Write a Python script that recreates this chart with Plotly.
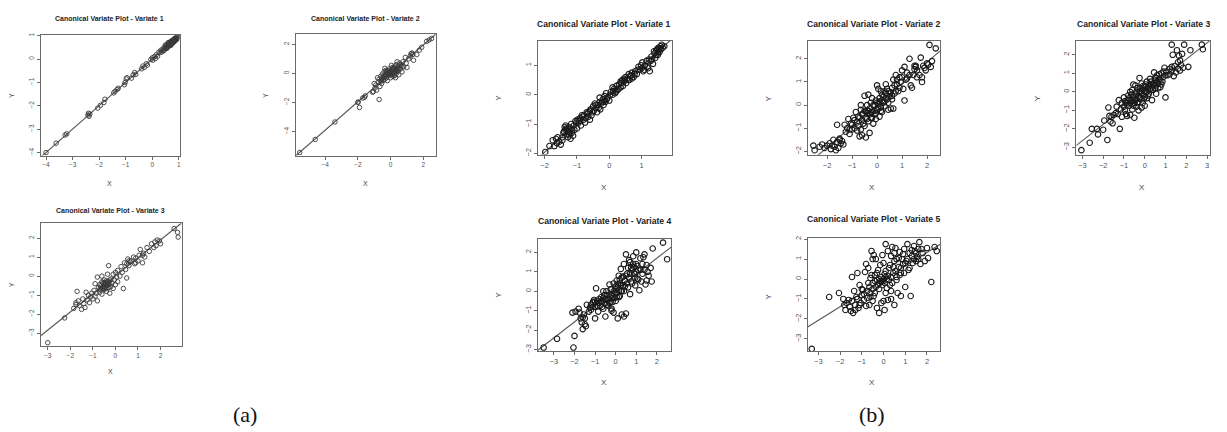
import plotly.graph_objects as go

W, H = 1227, 432

# ---------------- data: canonical variate scores (X, Y) per panel ----------------
A1_PTS = [(-4.0,-4.0),(-3.62,-3.6),(-3.28,-3.25),(-3.22,-3.2),(-2.42,-2.4),(-2.38,-2.45),(-2.35,-2.35),
          (-2.4,-2.32),(-2.05,-2.1),(-1.95,-1.98),(-1.82,-1.86),(-1.78,-1.72),(-1.45,-1.45),(-1.4,-1.38),
          (-1.32,-1.3),(-1.28,-1.25),(-1.05,-1.1),(-1.02,-1.0),(-0.98,-0.85),(-0.95,-0.8),(-0.78,-0.82),
          (-0.72,-0.68),(-0.66,-0.58),(-0.62,-0.66),(-0.4,-0.42),(-0.35,-0.3),(-0.3,-0.36),(-0.22,-0.2),
          (-0.18,-0.26),(-0.05,-0.02),(0.0,0.05),(0.02,-0.05),(0.08,0.1),(0.12,0.02),(0.15,0.18),(0.2,0.12),
          (0.25,0.3),(0.3,0.28),(0.33,0.38),(0.36,0.3),(0.4,0.42),(0.42,0.35),(0.45,0.5),(0.48,0.44),
          (0.5,0.55),(0.52,0.47),(0.55,0.6),(0.56,0.5),(0.58,0.56),(0.6,0.65),(0.6,0.52),(0.62,0.6),
          (0.64,0.7),(0.65,0.58),(0.66,0.64),(0.68,0.72),(0.68,0.6),(0.7,0.68),(0.7,0.76),(0.72,0.64),
          (0.73,0.7),(0.74,0.78),(0.75,0.66),(0.76,0.74),(0.77,0.8),(0.78,0.7),(0.79,0.76),(0.8,0.82),
          (0.8,0.72),(0.81,0.78),(0.82,0.85),(0.83,0.74),(0.84,0.8),(0.85,0.88),(0.86,0.78),(0.87,0.84),
          (0.88,0.9),(0.9,0.82),(0.9,0.87),(0.92,0.92),(0.93,0.85),(0.95,0.95),(0.6,0.7),(0.7,0.58),
          (0.55,0.45),(0.45,0.38),(0.5,0.6)]

A2_PTS = [(-5.55,-5.45),(-4.6,-4.55),(-3.4,-3.35),(-2.0,-2.0),(-1.98,-1.97),(-1.9,-2.35),(-1.7,-1.7),
          (-1.6,-1.65),(-1.55,-1.55),(-1.1,-1.3),(-1.05,-1.25),(-1.0,-0.7),(-0.95,-1.0),(-0.9,-0.8),
          (-0.85,-1.15),(-0.7,-1.8),(-0.75,-0.6),(-0.7,-0.4),(-0.65,-0.9),(-0.6,-0.55),(-0.6,-0.2),
          (-0.55,-0.7),(-0.5,-0.35),(-0.5,-0.05),(-0.45,-0.5),(-0.4,-0.2),(-0.4,0.1),(-0.35,-0.4),
          (-0.3,-0.1),(-0.3,0.2),(-0.25,-0.3),(-0.2,0.0),(-0.2,-0.5),(-0.15,0.15),(-0.1,-0.15),(-0.1,0.3),
          (-0.05,-0.05),(0.0,0.1),(0.0,-0.3),(0.05,0.25),(0.05,-0.1),(0.1,0.0),(0.1,0.4),(0.15,-0.2),
          (0.15,0.15),(0.2,0.3),(0.2,-0.05),(0.25,0.5),(0.25,0.1),(0.3,-0.3),(0.3,0.25),(0.35,0.6),
          (0.35,0.0),(0.4,0.35),(0.45,0.15),(0.5,0.5),(0.5,-0.1),(0.55,0.7),(0.6,0.3),(0.65,0.55),
          (0.7,0.1),(0.75,0.8),(0.8,0.45),(0.9,1.1),(0.95,0.7),(1.0,0.4),(1.1,1.0),(1.2,1.2),(1.25,1.35),
          (1.3,1.4),(1.35,1.3),(1.4,0.9),(1.6,1.3),(1.75,1.6),(1.9,1.8),(2.2,2.2),(2.35,2.3),(2.5,2.4),
          (-0.8,-0.3),(-0.35,0.35),(0.05,0.55),(0.4,0.8),
          (-0.45,-0.25),(-0.35,-0.15),(-0.25,0.05),(-0.15,-0.1),(-0.05,0.1),(0.0,-0.05),(0.1,0.2),
          (0.2,0.1),(0.3,0.4),(0.4,0.2),(0.5,0.3),(0.6,0.6),(-0.2,0.2),(0.15,0.35),(0.25,-0.15),
          (-0.55,-0.45),(0.7,0.45),(0.35,0.15)]

A3_PTS = [(-3.0,-3.5),(-2.25,-2.2),(-1.85,-1.7),(-1.75,-1.5),(-1.75,-1.4),(-1.65,-1.3),(-1.6,-1.55),
          (-1.5,-1.75),(-1.45,-1.2),(-1.4,-1.45),(-1.35,-1.65),(-1.25,-1.25),(-1.2,-1.0),(-1.15,-1.4),
          (-1.05,-0.9),(-1.0,-1.2),(-0.95,-0.75),(-0.9,-1.05),(-0.85,-0.9),(-0.8,-1.3),(-0.75,-0.6),
          (-0.7,-0.85),(-0.7,-0.45),(-0.65,-0.7),(-0.6,-0.3),(-0.6,-0.95),(-0.55,-0.55),(-0.55,-0.35),
          (-0.5,-0.7),(-0.5,-0.45),(-0.5,-0.2),(-0.45,-0.6),(-0.45,-0.35),(-0.4,-0.5),(-0.4,-0.8),
          (-0.4,-0.25),(-0.35,-0.45),(-0.35,0.1),(-0.3,-0.6),(-0.3,-0.3),(-0.25,-0.4),(-0.25,-0.9),
          (-0.2,-0.15),(-0.2,-0.55),(-0.15,-0.35),(-0.1,0.1),(-0.1,-0.65),(-0.05,-0.2),(0.0,-0.45),
          (0.0,0.2),(0.05,-0.05),(0.1,0.3),(0.1,-0.3),(0.2,0.0),(0.25,0.5),(0.3,0.2),(0.35,-0.65),
          (0.4,0.7),(0.45,0.35),(0.5,0.65),(0.55,0.9),(0.6,0.55),(0.65,0.75),(0.7,0.8),(0.8,1.0),
          (0.85,0.65),(0.9,0.95),(1.0,0.8),(1.05,1.1),(1.1,1.4),(1.2,0.7),(1.25,1.2),(1.3,1.0),(1.4,1.5),
          (1.5,1.3),(1.6,1.7),(1.7,1.5),(1.75,1.8),(1.8,1.6),(1.85,1.9),(1.95,1.85),(2.0,1.7),(2.6,2.5),
          (2.75,2.3),(2.78,2.05),(-0.8,-0.05),(-0.9,-0.4),(-1.3,-0.85),(-0.3,0.55),(0.5,-0.1),(-1.7,-0.8),
          (-0.6,0.0),
          (-0.65,-0.5),(-0.55,-0.65),(-0.5,-0.55),(-0.45,-0.45),(-0.4,-0.65),(-0.35,-0.3),(-0.3,-0.45),
          (-0.6,-0.6),(-0.7,-0.7),(-0.25,-0.2),(-0.5,-0.35),(-0.4,-0.4),(0.6,0.8),(0.9,0.7),(1.2,1.1),
          (-1.1,-1.1)]

B1_PTS = [(-1.98,-1.95),(-1.75,-1.55),(-1.7,-1.75),(-1.65,-1.5),(-1.62,-1.65),(-1.55,-1.6),(-1.5,-1.7),
          (-1.45,-1.45),(-1.4,-1.25),(-1.38,-1.1),(-1.35,-1.05),(-1.32,-1.35),(-1.3,-1.2),(-1.28,-1.45),
          (-1.25,-1.1),(-1.22,-1.3),(-1.2,-1.5),(-1.18,-1.0),(-1.15,-1.2),(-1.12,-1.4),(-1.1,-1.05),
          (-1.05,-0.9),(-1.0,-1.15),(-0.95,-0.95),(-0.9,-0.8),(-0.88,-1.05),(-0.85,-0.7),(-0.8,-0.85),
          (-0.78,-0.7),(-0.75,-0.95),(-0.7,-0.6),(-0.65,-0.75),(-0.6,-0.55),(-0.55,-0.7),(-0.5,-0.4),
          (-0.48,-0.55),(-0.45,-0.3),(-0.4,-0.45),(-0.38,-0.6),(-0.35,-0.35),(-0.3,-0.25),(-0.28,-0.5),
          (-0.25,-0.3),(-0.2,-0.15),(-0.18,-0.35),(-0.15,-0.05),(-0.12,-0.25),(-0.1,0.05),(-0.05,-0.1),
          (0.0,-0.2),(0.05,0.1),(0.1,0.0),(0.15,0.2),(0.2,0.1),(0.22,0.3),(0.25,0.15),(0.3,0.35),
          (0.35,0.25),(0.4,0.5),(0.42,0.3),(0.45,0.45),(0.5,0.6),(0.52,0.4),(0.55,0.55),(0.6,0.7),
          (0.62,0.5),(0.65,0.65),(0.7,0.75),(0.75,0.6),(0.8,0.8),(0.85,0.7),(0.9,0.95),(0.95,0.85),
          (1.0,0.9),(1.02,1.1),(1.05,0.8),(1.1,1.0),(1.2,0.9),(1.25,0.8),(1.22,1.2),(1.3,1.3),(1.35,1.05),
          (1.4,1.4),(1.42,1.25),(1.45,1.5),(1.5,1.35),(1.52,1.6),(1.55,1.45),(1.58,1.65),(1.6,1.55),
          (1.65,1.6),(1.7,1.65),(1.48,1.55),(1.38,1.48),(1.28,1.15),(-0.3,-0.1),(-0.6,-0.85),(0.1,0.25),
          (0.35,0.45),(0.7,0.55),
          (-1.85,-1.75),(-1.6,-1.45),(-1.42,-1.3),(-1.36,-1.2),(-1.33,-1.15),(-1.27,-1.25),(-1.24,-1.38),
          (-1.2,-1.15),(-1.16,-1.3),(-1.08,-1.2),(-1.02,-0.95),(-0.98,-0.85),(-0.92,-0.9),(-0.82,-0.75),
          (-0.72,-0.8),(-0.68,-0.65),(-0.58,-0.5),(-0.52,-0.6),(-0.42,-0.35),(-0.33,-0.45),(-0.22,-0.25),
          (-0.08,-0.15),(0.02,0.0),(0.12,0.12),(0.18,0.05),(0.28,0.2),(0.38,0.4),(0.48,0.5),(0.58,0.5),
          (0.68,0.65),(0.78,0.7),(0.88,0.85),(0.98,1.0),(1.08,0.85),(1.15,1.15),(1.18,0.95),(1.32,1.2),
          (1.45,1.35),(1.55,1.55),(1.62,1.7),(1.5,1.45),(0.45,0.55),(-0.15,-0.2),(-0.65,-0.6),(-1.45,-1.55)]

B2_PTS = [(-2.55,-1.75),(-2.5,-1.95),(-2.2,-1.7),(-2.1,-1.85),(-2.0,-1.75),(-1.9,-1.65),(-1.85,-1.9),
          (-1.7,-1.8),(-1.65,-1.95),(-1.6,-1.6),(-1.5,-1.5),(-1.45,-1.65),(-1.4,-1.55),(-1.35,-1.7),
          (-1.5,-1.45),(-1.75,-1.5),(-1.3,-0.85),(-1.2,-1.0),(-1.15,-0.6),(-1.1,-1.05),(-1.05,-0.8),
          (-1.0,-1.05),(-0.95,-0.55),(-0.9,-1.0),(-0.85,-0.3),(-0.8,-0.75),(-0.8,-1.1),(-0.75,-0.5),
          (-0.7,-1.35),(-0.65,-0.2),(-0.6,-0.65),(-0.6,-1.3),(-0.55,-0.35),(-0.5,0.4),(-0.5,-0.9),
          (-0.45,-0.3),(-0.45,-1.4),(-0.4,0.0),(-0.4,-0.6),(-0.35,-0.25),(-0.35,0.45),(-0.3,-0.4),
          (-0.3,-1.2),(-0.25,0.1),(-0.25,-0.55),(-0.2,-0.3),(-0.2,0.3),(-0.15,-0.8),(-0.1,0.0),(-0.1,-0.4),
          (-0.05,0.2),(-0.05,-0.6),(0.0,-0.2),(0.0,0.85),(0.05,0.7),(0.05,0.05),(0.1,-0.5),(0.1,0.3),
          (0.15,-0.1),(0.2,0.45),(0.2,-0.3),(0.25,0.1),(0.3,0.6),(0.3,-0.05),(0.35,0.3),(0.4,0.7),
          (0.45,0.1),(0.5,0.5),(0.55,-0.15),(0.6,0.75),(0.6,0.25),(0.65,1.1),(0.7,0.5),(0.75,1.3),
          (0.8,0.9),(0.85,0.6),(0.9,1.2),(0.95,1.0),(1.0,1.5),(1.05,0.7),(1.1,1.65),(1.1,0.2),(1.15,1.1),
          (1.2,1.4),(1.3,2.0),(1.35,0.85),(1.4,0.75),(1.45,1.3),(1.5,1.7),(1.55,1.65),(1.6,1.5),(1.7,1.3),
          (1.75,2.05),(1.8,1.0),(1.8,1.2),(1.85,1.7),(1.95,1.5),(2.0,1.8),(2.1,2.6),(2.15,1.65),(2.2,1.9),
          (2.35,2.45),(0.15,0.6),(-0.65,0.0),(0.65,-0.15),(-1.6,-0.85),(0.35,0.9),
          (-2.3,-1.8),(-1.8,-1.75),(-1.55,-1.85),(-1.25,-1.15),(-1.0,-0.85),(-0.9,-0.65),(-0.75,-0.9),
          (-0.7,-0.55),(-0.6,-0.4),(-0.55,-0.8),(-0.5,-0.25),(-0.45,-0.55),(-0.4,-0.35),(-0.35,-0.7),
          (-0.3,-0.15),(-0.25,-0.3),(-0.2,-0.55),(-0.15,0.0),(-0.1,-0.25),(-0.05,-0.35),(0.0,0.1),
          (0.05,-0.15),(0.1,0.15),(0.15,-0.25),(0.2,0.2),(0.25,0.35),(0.3,0.15),(0.35,0.5),(0.4,0.25),
          (0.45,0.6),(0.5,0.35),(0.55,0.55),(0.6,0.4),(0.7,0.85),(0.75,0.6),(0.8,1.1),(0.9,0.75),
          (1.0,1.2),(1.2,1.15),(1.3,1.3),(1.5,1.55),(1.55,1.7),(1.6,1.2),(1.9,1.6),(2.05,1.75),
          (-1.1,-1.25),(-0.65,-1.05),(0.45,-0.2)]

B3_PTS = [(-3.05,-3.15),(-2.65,-2.75),(-2.55,-2.0),(-2.25,-2.3),(-2.0,-2.05),(-1.95,-1.55),(-1.8,-2.6),
          (-1.75,-0.85),(-1.7,-1.3),(-1.65,-1.6),(-1.55,-1.7),(-1.5,-1.25),(-1.4,-1.15),(-1.35,-0.8),
          (-1.3,-1.2),(-1.25,-0.45),(-1.2,-2.0),(-1.15,-0.95),(-1.1,-1.35),(-1.0,-0.3),(-0.95,-1.0),
          (-0.9,-0.6),(-0.85,-1.3),(-0.8,-0.2),(-0.75,-0.75),(-0.7,0.0),(-0.7,-1.25),(-0.65,-0.45),
          (-0.6,-0.95),(-0.6,0.1),(-0.55,-0.3),(-0.5,-1.4),(-0.5,-0.6),(-0.45,0.35),(-0.45,-0.1),
          (-0.4,-0.8),(-0.4,-0.4),(-0.35,0.2),(-0.3,-0.55),(-0.3,-1.0),(-0.25,0.0),(-0.25,0.75),
          (-0.2,-0.3),(-0.15,0.45),(-0.1,-0.6),(-0.1,0.1),(-0.05,-0.2),(0.0,0.3),(0.0,-0.75),(0.05,0.0),
          (0.1,0.55),(0.1,-0.35),(0.15,0.2),(0.2,-0.1),(0.25,0.7),(0.3,0.1),(0.35,-0.45),(0.4,0.4),
          (0.45,1.05),(0.5,0.2),(0.5,0.6),(0.55,-0.1),(0.6,0.9),(0.65,0.45),(0.7,0.7),(0.75,0.25),
          (0.8,1.0),(0.85,0.55),(0.9,0.8),(0.95,1.3),(1.0,-0.3),(1.05,1.1),(1.1,0.9),(1.2,1.25),
          (1.3,1.15),(1.35,2.0),(1.4,0.85),(1.45,1.4),(1.5,1.05),(1.55,2.25),(1.6,1.6),(1.65,1.95),
          (1.7,1.15),(1.75,1.45),(1.8,2.05),(1.85,1.3),(1.9,2.55),(2.1,1.35),(2.2,2.25),(1.3,2.55),
          (2.75,2.55),(2.8,2.3),(0.55,0.75),(-0.2,0.2),(0.3,0.35),(-0.55,0.4),
          (-2.3,-2.0),(-1.6,-1.35),(-1.0,-0.8),(-0.95,-0.5),(-0.85,-0.7),(-0.8,-0.45),(-0.75,-0.35),
          (-0.7,-0.6),(-0.65,-0.15),(-0.6,-0.5),(-0.55,-0.75),(-0.5,-0.2),(-0.45,-0.45),(-0.4,0.0),
          (-0.35,-0.6),(-0.3,-0.2),(-0.25,-0.35),(-0.2,0.05),(-0.15,-0.1),(-0.1,0.3),(-0.05,-0.4),
          (0.0,0.05),(0.05,0.4),(0.1,0.0),(0.15,-0.2),(0.2,0.35),(0.25,0.15),(0.3,0.55),(0.35,0.25),
          (0.4,0.1),(0.45,0.45),(0.5,0.75),(0.55,0.35),(0.6,0.55),(0.65,0.2),(0.7,0.95),(0.75,0.6),
          (0.8,0.4),(0.9,1.1),(1.0,0.9),(1.2,0.95),(1.3,1.35),(1.6,1.25),(1.7,1.7),(-1.1,-0.6),
          (-0.9,-1.2),(0.0,-0.3),(-0.15,-0.85)]

B4_PTS = [(-3.5,-2.9),(-2.85,-2.45),(-2.05,-2.9),(-2.0,-2.3),(-2.1,-1.1),(-1.95,-1.05),(-1.8,-0.9),
          (-1.7,-1.4),(-1.65,-1.6),(-1.6,-1.95),(-1.55,-1.2),(-1.5,-1.7),(-1.45,-1.8),(-1.4,-0.7),
          (-1.3,-1.05),(-1.25,-0.85),(-1.2,-0.7),(-1.1,-0.8),(-1.05,-0.45),(-1.0,-1.4),(-0.95,0.15),
          (-0.9,-0.5),(-0.85,-1.05),(-0.8,-0.4),(-0.75,-0.75),(-0.7,-0.3),(-0.65,-0.55),(-0.6,-0.9),
          (-0.55,-0.2),(-0.5,-1.3),(-0.5,-0.6),(-0.45,0.0),(-0.4,-0.45),(-0.35,-0.75),(-0.3,0.35),
          (-0.3,-0.3),(-0.25,-0.55),(-0.2,0.1),(-0.2,-0.9),(-0.15,-0.35),(-0.1,0.4),(-0.1,-1.1),
          (-0.05,-0.15),(0.0,0.25),(0.0,-0.5),(0.05,0.55),(0.05,-0.1),(0.1,-1.4),(0.1,0.2),(0.15,0.8),
          (0.15,-0.3),(0.2,0.4),(0.25,1.15),(0.25,0.0),(0.3,-1.2),(0.3,0.7),(0.35,0.3),(0.4,1.4),
          (0.4,-1.3),(0.45,0.55),(0.5,-1.15),(0.5,1.9),(0.55,0.9),(0.6,0.2),(0.65,1.6),(0.65,0.7),
          (0.7,-0.15),(0.75,1.2),(0.8,0.4),(0.85,1.8),(0.9,0.9),(0.95,0.3),(1.0,1.4),(1.0,2.0),
          (1.05,0.65),(1.1,1.1),(1.15,0.05),(1.2,1.7),(1.25,0.5),(1.3,0.9),(1.35,1.75),(1.4,1.9),
          (1.45,0.35),(1.5,1.35),(1.55,1.0),(1.6,0.8),(1.7,1.2),(1.75,0.5),(1.8,2.2),(2.3,2.5),
          (2.5,1.65),(0.7,1.5),(-0.6,0.0),(0.2,-0.25),(-1.0,-0.55),
          (-1.75,-1.1),(-1.6,-1.35),(-1.5,-1.4),(-1.2,-0.95),(-1.1,-0.55),(-1.0,-0.8),(-0.9,-0.75),
          (-0.8,-0.6),(-0.7,-0.5),(-0.65,-0.8),(-0.6,-0.35),(-0.5,-0.4),(-0.45,-0.7),(-0.4,-0.2),
          (-0.35,-0.4),(-0.3,-0.6),(-0.25,0.1),(-0.2,-0.2),(-0.15,-0.55),(-0.1,0.0),(-0.05,-0.35),
          (0.0,0.1),(0.05,-0.3),(0.1,0.35),(0.15,0.05),(0.2,0.6),(0.25,0.3),(0.3,0.0),(0.35,0.75),
          (0.45,0.25),(0.5,0.8),(0.55,0.4),(0.6,1.2),(0.7,0.9),(0.75,0.5),(0.8,1.1),(0.85,1.4),
          (0.9,1.25),(0.95,0.7),(1.0,1.0),(1.05,1.3),(1.1,0.6),(1.2,1.1),(1.3,1.4),(1.4,1.1),(1.5,0.55),
          (0.4,0.0),(-0.2,-1.0)]

B5_PTS = [(-3.3,-3.5),(-2.5,-0.9),(-2.05,-0.7),(-1.85,-1.0),(-1.8,-1.3),(-1.75,-1.55),(-1.6,-1.05),
          (-1.55,-1.4),(-1.5,-1.6),(-1.45,0.1),(-1.4,-1.7),(-1.35,-0.6),(-1.3,-1.3),(-1.25,-0.9),
          (-1.2,0.3),(-1.15,-1.45),(-1.1,-0.3),(-1.05,-1.2),(-1.0,-0.8),(-0.95,-0.55),(-0.9,-1.05),
          (-0.85,0.35),(-0.8,0.75),(-0.8,-1.35),(-0.75,-0.6),(-0.7,-0.2),(-0.7,0.55),(-0.65,-1.3),
          (-0.6,-0.9),(-0.55,1.4),(-0.55,0.2),(-0.5,-0.5),(-0.5,-1.1),(-0.45,1.2),(-0.4,-0.1),
          (-0.4,-0.7),(-0.35,1.0),(-0.3,0.3),(-0.3,-1.45),(-0.25,-0.3),(-0.2,-1.7),(-0.2,0.0),
          (-0.15,0.7),(-0.1,-0.15),(-0.1,-1.2),(-0.05,1.2),(0.0,0.8),(0.0,-0.1),(0.05,-1.55),(0.05,0.25),
          (0.1,-0.7),(0.1,1.75),(0.15,0.0),(0.2,1.4),(0.2,-1.05),(0.25,0.55),(0.3,-0.3),(0.35,1.15),
          (0.35,-0.6),(0.4,1.6),(0.45,0.3),(0.5,-1.3),(0.5,0.9),(0.55,1.55),(0.6,0.1),(0.65,-0.7),
          (0.7,0.6),(0.75,1.35),(0.8,-0.85),(0.8,0.3),(0.85,1.0),(0.9,0.75),(0.95,1.5),(1.0,-0.4),
          (1.05,0.9),(1.1,1.75),(1.15,0.45),(1.2,1.3),(1.25,-0.85),(1.3,1.15),(1.35,0.8),(1.4,1.65),
          (1.45,1.4),(1.5,0.9),(1.55,1.1),(1.6,1.5),(1.65,1.85),(1.7,0.75),(1.8,1.3),(1.9,0.9),
          (2.0,1.55),(2.05,1.05),(2.2,-0.15),(2.35,1.6),(2.45,1.4),(-0.2,-0.2),(0.1,0.1),(0.25,-0.05),
          (-0.6,0.05),(0.6,1.0),
          (-1.7,-1.2),(-1.45,-1.1),(-1.3,-1.55),(-1.2,-1.0),(-1.1,-1.3),(-1.0,-0.5),(-0.9,-0.75),
          (-0.75,-0.95),(-0.65,-0.4),(-0.6,-0.7),(-0.5,-0.2),(-0.45,-0.85),(-0.4,0.2),(-0.35,-0.4),
          (-0.3,-0.05),(-0.25,0.45),(-0.2,-0.5),(-0.15,-0.1),(-0.1,0.1),(-0.05,-0.3),(0.0,0.0),
          (0.05,-0.2),(0.1,0.4),(0.15,-0.45),(0.2,0.15),(0.3,0.7),(0.35,0.1),(0.4,-0.2),(0.45,0.6),
          (0.5,1.3),(0.55,0.4),(0.6,-0.05),(0.7,1.05),(0.75,0.2),(0.8,0.55),(0.9,1.25),(0.95,0.3),
          (1.0,0.8),(1.1,1.0),(1.2,0.55),(1.3,1.45),(1.4,1.0),(1.5,1.3),(1.6,1.0),(1.75,1.5),
          (-0.5,1.0),(0.0,-1.1),(0.35,-1.0)]

# fitted line (slope, intercept) for each panel
FIT_LINES = {"a1": (1.0, 0.0), "a2": (0.98, 0.0), "a3": (0.95, 0.01),
             "b1": (0.98, 0.0), "b2": (0.92, 0.01), "b3": (0.88, 0.0),
             "b4": (0.82, 0.06), "b5": (0.68, -0.03)}

TITLES = {"a1": "Canonical Variate Plot - Variate 1", "a2": "Canonical Variate Plot - Variate 2",
          "a3": "Canonical Variate Plot - Variate 3", "b1": "Canonical Variate Plot - Variate 1",
          "b2": "Canonical Variate Plot - Variate 2", "b3": "Canonical Variate Plot - Variate 3",
          "b4": "Canonical Variate Plot - Variate 4", "b5": "Canonical Variate Plot - Variate 5"}

X_TICKS = {"a1": [-4, -3, -2, -1, 0, 1], "a2": [-4, -2, 0, 2], "a3": [-3, -2, -1, 0, 1, 2],
           "b1": [-2, -1, 0, 1], "b2": [-2, -1, 0, 1, 2], "b3": [-3, -2, -1, 0, 1, 2, 3],
           "b4": [-3, -2, -1, 0, 1, 2], "b5": [-3, -2, -1, 0, 1, 2]}
Y_TICKS = {"a1": [-4, -3, -2, -1, 0, 1], "a2": [-4, -2, 0, 2], "a3": [-3, -2, -1, 0, 1, 2],
           "b1": [-2, -1, 0, 1], "b2": [-2, -1, 0, 1, 2], "b3": [-3, -2, -1, 0, 1, 2],
           "b4": [-3, -2, -1, 0, 1, 2], "b5": [-3, -2, -1, 0, 1, 2]}

POINTS = {"a1": A1_PTS, "a2": A2_PTS, "a3": A3_PTS, "b1": B1_PTS,
          "b2": B2_PTS, "b3": B3_PTS, "b4": B4_PTS, "b5": B5_PTS}

# ---------------- layout geometry (pixels) ----------------
# box: (left, right, top, bottom); axis ranges; title / X / Y label anchors
PANELS = {
    "a1": dict(box=(41, 180, 33, 155), xr=(-4.19, 1.04), yr=(-4.13, 1.04),
               title=(110, 17), xl=(110, 183), yl=(11, 94)),
    "a2": dict(box=(296, 436, 32, 155), xr=(-5.79, 2.75), yr=(-5.66, 2.73),
               title=(366, 17), xl=(366, 183), yl=(265, 94)),
    "a3": dict(box=(41, 181.7, 223.3, 347.7), xr=(-3.3, 2.93), yr=(-3.7, 2.78),
               title=(111, 210), xl=(111, 373), yl=(11, 285)),
    "b1": dict(box=(538.3, 672.3, 39.3, 154), xr=(-2.21, 1.93), yr=(-2.04, 1.83),
               title=(604, 22), xl=(604, 187), yl=(499, 97)),
    "b2": dict(box=(808.3, 941, 39.3, 154.3), xr=(-2.78, 2.53), yr=(-2.15, 2.77),
               title=(874, 22), xl=(873, 187), yl=(769, 97)),
    "b3": dict(box=(1077.3, 1210.7, 39.3, 154), xr=(-3.29, 3.13), yr=(-3.39, 2.75),
               title=(1144, 22), xl=(1143, 187), yl=(1038, 97)),
    "b4": dict(box=(538.3, 672, 239, 352.3), xr=(-3.78, 2.71), yr=(-3.08, 2.70),
               title=(605, 221), xl=(604, 384), yl=(499, 296)),
    "b5": dict(box=(808.3, 941, 238.3, 352.3), xr=(-3.49, 2.61), yr=(-3.61, 2.05),
               title=(874, 219), xl=(873, 384), yl=(769, 297)),
}


def px(x):
    return x / W


def py(y):
    return 1 - y / H


fig = go.Figure()
annotations = []
layout_axes = {}

for i, key in enumerate(PANELS, start=1):
    p = PANELS[key]
    small = key.startswith("a")
    xa = "x" if i == 1 else f"x{i}"
    ya = "y" if i == 1 else f"y{i}"
    pts = POINTS[key]
    xs = [a for a, _ in pts]
    ys = [b for _, b in pts]

    # fitted line spanning the full x range
    m, c = FIT_LINES[key]
    x0, x1 = p["xr"]
    fig.add_trace(go.Scatter(x=[x0, x1], y=[m * x0 + c, m * x1 + c], mode="lines",
                             line=dict(color="#555555", width=1.1),
                             xaxis=xa, yaxis=ya, showlegend=False, hoverinfo="skip"))
    fig.add_trace(go.Scatter(x=xs, y=ys, mode="markers",
                             marker=dict(symbol="circle-open",
                                         size=4.5 if small else 5.5,
                                         color="#3a3a3a" if small else "#1a1a1a",
                                         line=dict(width=0.9 if small else 1.1)),
                             xaxis=xa, yaxis=ya, showlegend=False))

    l, r, t, b = p["box"]
    tick_font = dict(family="Liberation Sans, Arial, sans-serif",
                     size=6.5 if small else 7.5, color="#555555")
    axis_common = dict(showgrid=False, zeroline=False, showline=True, mirror=True,
                       linecolor="#6a6a6a", linewidth=1, ticks="outside", ticklen=3,
                       tickcolor="#6a6a6a", tickwidth=1, tickfont=tick_font)
    layout_axes["xaxis" if i == 1 else f"xaxis{i}"] = dict(
        domain=[px(l), px(r)], range=list(p["xr"]), anchor=ya,
        tickmode="array", tickvals=X_TICKS[key], **axis_common)
    layout_axes["yaxis" if i == 1 else f"yaxis{i}"] = dict(
        domain=[py(b), py(t)], range=list(p["yr"]), anchor=xa,
        tickmode="array", tickvals=Y_TICKS[key], tickangle=-90, **axis_common)

    title_font = dict(family="Liberation Sans, Arial, sans-serif",
                      size=7 if small else 8.6, color="#222222")
    annotations.append(dict(x=px(p["title"][0]), y=py(p["title"][1]), xref="paper", yref="paper",
                            text=f"<b>{TITLES[key]}</b>", showarrow=False, font=title_font,
                            xanchor="center", yanchor="middle"))
    lab_font = dict(family="Liberation Sans, Arial, sans-serif",
                    size=7 if small else 8, color="#444444")
    annotations.append(dict(x=px(p["xl"][0]), y=py(p["xl"][1]), xref="paper", yref="paper",
                            text="X", showarrow=False, font=lab_font,
                            xanchor="center", yanchor="middle"))
    annotations.append(dict(x=px(p["yl"][0]), y=py(p["yl"][1]), xref="paper", yref="paper",
                            text="Y", showarrow=False, font=lab_font, textangle=-90,
                            xanchor="center", yanchor="middle"))

# group labels
for text, cx in (("(a)", 245), ("(b)", 873)):
    annotations.append(dict(x=px(cx), y=py(416), xref="paper", yref="paper", text=text,
                            showarrow=False, xanchor="center", yanchor="middle",
                            font=dict(family="Liberation Serif, Times New Roman, serif",
                                      size=22, color="#111111")))

fig.update_layout(width=W, height=H, margin=dict(l=0, r=0, t=0, b=0),
                  paper_bgcolor="white", plot_bgcolor="white",
                  annotations=annotations, **layout_axes)

fig.write_html("out.html")
